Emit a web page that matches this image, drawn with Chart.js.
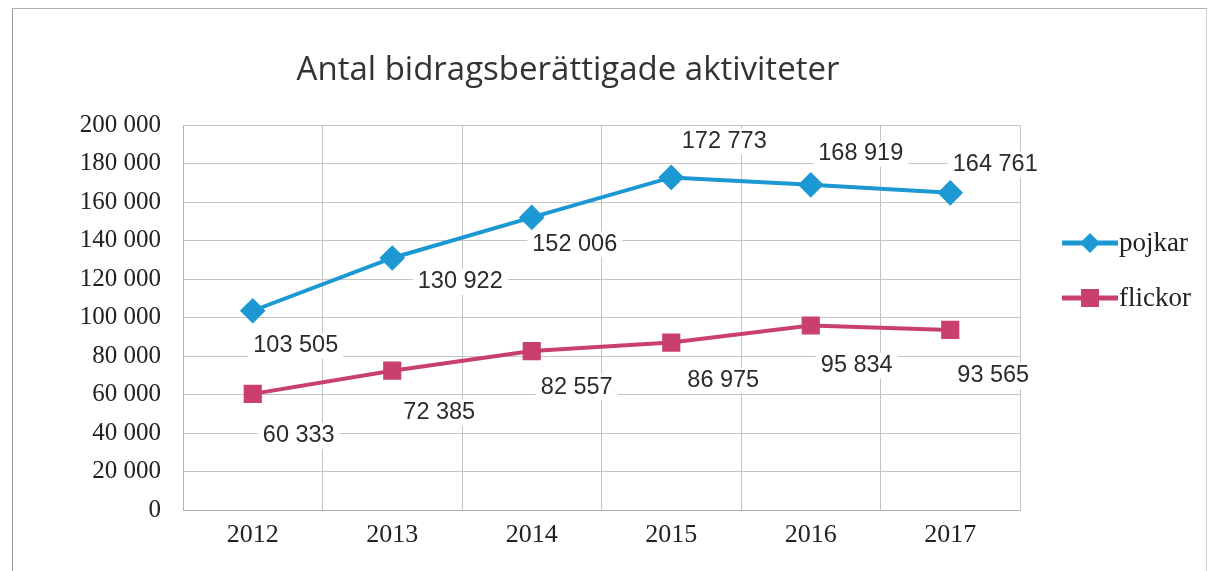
<!DOCTYPE html>
<html>
<head>
<meta charset="utf-8">
<script src="https://cdn.jsdelivr.net/npm/chart.js@4.4.0/dist/chart.umd.min.js"></script>
<style>
  html, body { margin: 0; padding: 0; background: #fff; }
  #wrap { position: relative; width: 1211px; height: 571px; }
  #frame { position: absolute; left: 12px; top: 8px; right: 4px; bottom: -2px;
           border-left: 1px solid #9a9a9a; border-top: 1px solid #b0b0b0; border-right: 1px solid #d0d0d0; }
  canvas { position: absolute; left: 0; top: 0; }
</style>
</head>
<body>
<div id="wrap">
  <div id="frame"></div>
  <canvas id="chart" width="1211" height="571"></canvas>
</div>
<script>
// --- Datos ---
const years = ['2012', '2013', '2014', '2015', '2016', '2017'];
const pojkar = [103505, 130922, 152006, 172773, 168919, 164761];
const flickor = [60333, 72385, 82557, 86975, 95834, 93565];
const yTicks = [0, 20000, 40000, 60000, 80000, 100000, 120000, 140000, 160000, 180000, 200000];
const chartTitle = 'Antal bidragsberättigade aktiviteter';

const blue = '#1c98d2';
const pink = '#c93f6d';

// desplazamiento de etiquetas (px) respecto al punto
const offsetsPojkar = [[43, 35], [68, 24], [43, 27], [53, -36], [50, -31], [45, -28]];
const offsetsFlickor = [[46, 42], [47, 42], [45, 36], [52, 38], [46, 40], [43, 46]];

function fmt(v) {
  return String(v).replace(/\B(?=(\d{3})+(?!\d))/g, ' ');
}

// --- Plugin: título, etiquetas y leyenda ---
const extras = {
  id: 'extras',
  afterDatasetsDraw(chart) {
    const ctx = chart.ctx;
    ctx.save();
    // etiquetas de valores
    ctx.font = '23.5px "Liberation Sans", Arial, sans-serif';
    ctx.textAlign = 'center';
    ctx.textBaseline = 'middle';
    const offs = [offsetsPojkar, offsetsFlickor];
    chart.data.datasets.forEach((ds, i) => {
      chart.getDatasetMeta(i).data.forEach((pt, j) => {
        const txt = fmt(ds.data[j]);
        const x = pt.x + offs[i][j][0];
        const y = pt.y + offs[i][j][1];
        const w = ctx.measureText(txt).width + 10;
        ctx.fillStyle = '#fff';
        ctx.fillRect(x - w / 2, y - 13, w, 26);
        ctx.fillStyle = '#2b2b2b';
        ctx.fillText(txt, x, y);
      });
    });

    // título
    ctx.font = '33px "Open Sans", "Noto Sans", sans-serif';
    ctx.fillStyle = '#333';
    ctx.fillText(chartTitle, 568, 71);

    // leyenda
    ctx.font = '27px "Liberation Serif", "Times New Roman", serif';
    ctx.textAlign = 'left';
    chart.data.datasets.forEach((ds, i) => {
      const y = 243 + i * 55;
      ctx.strokeStyle = ds.borderColor;
      ctx.lineWidth = 5;
      ctx.beginPath();
      ctx.moveTo(1062, y);
      ctx.lineTo(1118, y);
      ctx.stroke();
      ctx.fillStyle = ds.backgroundColor;
      ctx.beginPath();
      if (ds.pointStyle === 'rectRot') {
        ctx.moveTo(1090, y - 10); ctx.lineTo(1100, y); ctx.lineTo(1090, y + 10); ctx.lineTo(1080, y);
        ctx.closePath();
      } else {
        ctx.rect(1081, y - 9, 18, 18);
      }
      ctx.fill();
      ctx.fillStyle = '#222';
      ctx.fillText(ds.label, 1119, y + 1);
    });
    ctx.restore();
  }
};

// --- Crear gráfico ---
new Chart(document.getElementById('chart'), {
  type: 'line',
  data: {
    labels: years,
    datasets: [{
      label: 'pojkar',
      data: pojkar,
      borderColor: blue,
      backgroundColor: blue,
      borderWidth: 4,
      pointStyle: 'rectRot',
      pointRadius: 10,
      tension: 0
    }, {
      label: 'flickor',
      data: flickor,
      borderColor: pink,
      backgroundColor: pink,
      borderWidth: 4,
      pointStyle: 'rect',
      pointRadius: 10,
      tension: 0
    }]
  },
  options: {
    responsive: false,
    animation: false,
    layout: { padding: { left: 10, right: 191, top: 125, bottom: 11 } },
    plugins: { legend: { display: false }, title: { display: false }, tooltip: { enabled: false } },
    scales: {
      x: {
        offset: true,
        grid: { offset: true, color: '#c4c4c4', drawTicks: false },
        border: { color: '#b5b5b5' },
        ticks: { padding: 10, color: '#222', font: { family: '"Liberation Serif", "Times New Roman", serif', size: 26 } },
        afterFit(scale) { scale.height = 50; }
      },
      y: {
        min: 0,
        max: 200000,
        afterBuildTicks(scale) { scale.ticks = yTicks.map(v => ({ value: v })); },
        grid: { color: '#c4c4c4', drawTicks: false },
        border: { color: '#b5b5b5' },
        ticks: {
          padding: 22,
          color: '#222',
          font: { family: '"Liberation Serif", "Times New Roman", serif', size: 25 },
          callback: v => fmt(v)
        },
        afterFit(scale) { scale.width = 173; }
      }
    }
  },
  plugins: [extras]
});
</script>
</body>
</html>
